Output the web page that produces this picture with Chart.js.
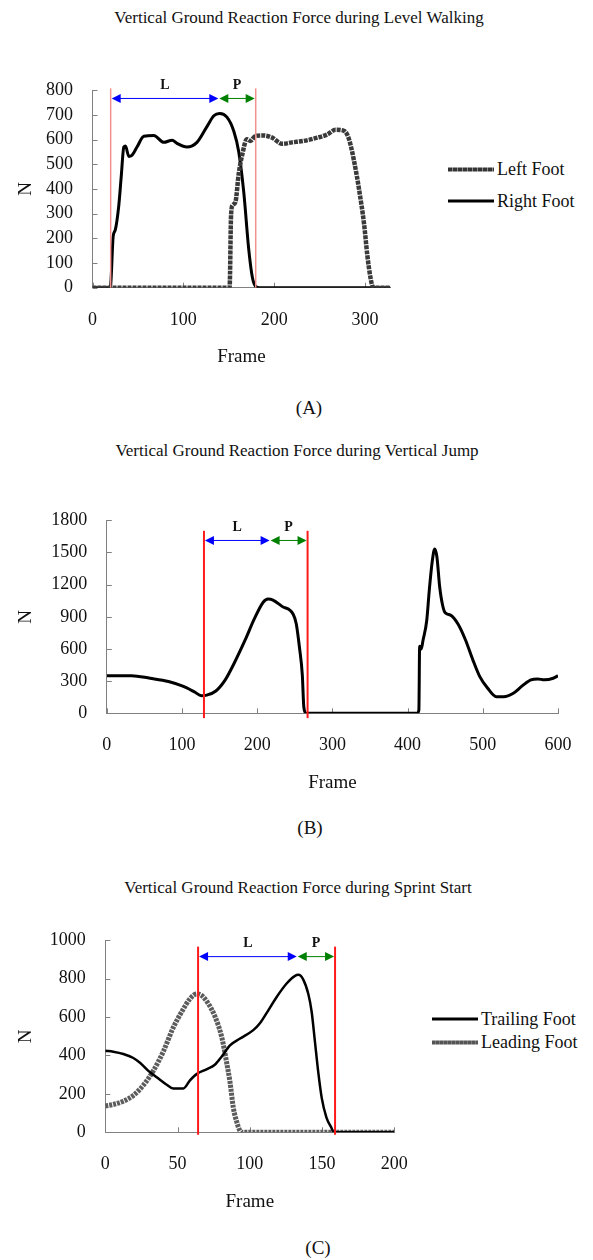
<!DOCTYPE html>
<html>
<head>
<meta charset="utf-8">
<script src="https://cdn.jsdelivr.net/npm/chart.js@4.4.1/dist/chart.umd.min.js"></script>
<style>
  body { margin: 0; background: #fff; width: 593px; height: 1260px; position: relative; overflow: hidden;
         font-family: "Liberation Serif", "Times New Roman", serif; color: #111; }
  canvas { position: absolute; left: 0; }
  .txt { position: absolute; white-space: nowrap; transform: translate(-50%, -50%); }
  .title { font-size: 17px; }
  .cap { font-size: 19px; }
  .leg { position: absolute; display: flex; align-items: center; font-size: 18px; white-space: nowrap; transform: translateY(-50%); }
  .leg i { display: inline-block; width: 46px; margin-right: 3px; }
  .solid { height: 3px; background: #000; }
  .dash { height: 4px; background: repeating-linear-gradient(90deg, #333 0 4px, #8a8a8a 4px 5px); }
  .grey { height: 4px; background: repeating-linear-gradient(90deg, #555 0 3px, #7a7a7a 3px 4px); }
</style>
</head>
<body>

<div class="txt title" style="left:299px; top:18px;">Vertical Ground Reaction Force during Level Walking</div>
<div class="leg" style="left:448px; top:169px;"><i class="dash"></i>Left Foot</div>
<div class="leg" style="left:448px; top:201px;"><i class="solid"></i>Right Foot</div>
<canvas id="chartA"></canvas>
<div class="txt cap" style="left:309px; top:408px;">(A)</div>

<div class="txt title" style="left:297px; top:451px;">Vertical Ground Reaction Force during Vertical Jump</div>
<canvas id="chartB"></canvas>
<div class="txt cap" style="left:310px; top:828px;">(B)</div>

<div class="txt title" style="left:298px; top:888px;">Vertical Ground Reaction Force during Sprint Start</div>
<div class="leg" style="left:432px; top:1019px;"><i class="solid"></i>Trailing Foot</div>
<div class="leg" style="left:432px; top:1042px;"><i class="grey"></i>Leading Foot</div>
<canvas id="chartC"></canvas>
<div class="txt cap" style="left:318px; top:1248px;">(C)</div>

<script>
// (A) level walking
const walkLeftFrames = [0, 150, 151, 152.6, 154.4, 157.4, 161, 164.8, 170, 174, 179.5, 188.6, 197.8, 208.8, 219.8, 232.6, 247.5, 258.5, 267.6, 276.8, 282.4, 288, 293.5, 299, 302.6, 306, 308.6, 312, 328];
const walkLeftForce  = [0, 0, 4, 297, 335, 347, 462, 538, 602, 595, 615, 617, 608, 583, 589, 595, 608, 621, 640, 636, 602, 513, 398, 258, 131, 42, 4, 0, 0];
const walkRightFrames = [0, 19, 19.8, 22.8, 25, 29, 31.6, 34.5, 36.3, 40, 43, 49, 56.5, 67.5, 78.5, 87.7, 93, 104, 115, 126, 133.6, 140, 148, 155.6, 161, 166.6, 172, 176, 179.5, 184, 328];
const walkRightForce  = [0, 0, 4, 209, 233, 335, 449, 570, 574, 532, 535, 570, 614, 617, 589, 598, 585, 570, 589, 653, 697, 706, 691, 634, 551, 385, 156, 42, 6, 0, 0];
const walkPhases = [20, 138.5, 179.7];

// (B) vertical jump
const jumpFrames = [0, 33, 57.5, 82, 101, 116, 126, 133, 145, 157.5, 170, 184, 196, 208, 214.5, 221, 233, 248, 252, 256, 260, 262, 265, 413, 415, 416, 418, 420.6, 425.4, 429, 433, 436, 439, 442.5, 446.4, 450, 457, 467, 477, 486.4, 496, 506, 518, 528, 540, 552, 564, 573, 582, 593.6, 600];
const jumpForce  = [351, 351, 327, 297, 253, 202, 164, 170, 208, 312, 476, 684, 878, 1036, 1065, 1056, 997, 922, 833, 625, 357, 59, 0, 0, 30, 625, 600, 684, 863, 1161, 1429, 1532, 1458, 1190, 1012, 937, 916, 833, 684, 505, 342, 238, 154, 154, 184, 253, 312, 321, 312, 327, 351];
const jumpPhases = [129.2, 216.5, 267];

// (C) sprint start
const trailFrames = [0, 5.5, 12.5, 19.4, 24, 29.8, 35.6, 42.5, 47, 54, 58.6, 63.2, 70, 76, 80.6, 86.3, 93, 102.4, 107, 111.7, 118.6, 125.5, 131.3, 133.6, 137, 140.5, 142.8, 145, 147.4, 149.8, 153, 156.7, 158, 200];
const trailForce  = [425, 420, 408, 387, 362, 320, 287, 248, 228, 228, 270, 303, 328, 353, 395, 453, 487, 532, 568, 622, 705, 775, 815, 820, 795, 720, 628, 478, 312, 178, 78, 20, 0, 0];
const leadFrames = [0, 5.5, 12.5, 19.4, 26.3, 33.2, 40.1, 47, 52.9, 58.6, 63.2, 66.7, 71.3, 75.9, 80.6, 84, 86.3, 88.6, 91, 93.2, 95, 200];
const leadForce  = [137, 145, 162, 192, 245, 320, 420, 545, 628, 695, 720, 712, 670, 603, 495, 362, 262, 128, 53, 8, 0, 0];
const sprintPhases = [64.2, 132.5, 159];

Chart.defaults.font.family = '"Liberation Serif", "Times New Roman", serif';
Chart.defaults.color = '#111';

function pts(xs, ys) {
  return xs.map((x, i) => ({ x: x, y: ys[i] }));
}

// marcas de eje hacia dentro del area
const innerTicks = {
  id: 'innerTicks',
  beforeDatasetsDraw(chart) {
    const { ctx, chartArea: a, scales } = chart;
    ctx.save();
    ctx.strokeStyle = '#808080';
    ctx.lineWidth = 1;
    ctx.beginPath();
    scales.x.ticks.forEach(t => {
      const px = Math.round(scales.x.getPixelForValue(t.value)) + 0.5;
      ctx.moveTo(px, a.bottom);
      ctx.lineTo(px, a.bottom - 5);
    });
    scales.y.ticks.forEach(t => {
      const py = Math.round(scales.y.getPixelForValue(t.value)) + 0.5;
      ctx.moveTo(a.left, py);
      ctx.lineTo(a.left + 5, py);
    });
    ctx.stroke();
    ctx.restore();
  }
};

function arrowHead(ctx, x, y, dir) {
  ctx.beginPath();
  ctx.moveTo(x, y);
  ctx.lineTo(x - dir * 9, y - 4.5);
  ctx.lineTo(x - dir * 9, y + 4.5);
  ctx.closePath();
  ctx.fill();
}

function drawArrow(ctx, x1, x2, y, color, label) {
  ctx.strokeStyle = color;
  ctx.fillStyle = color;
  ctx.lineWidth = 1;
  ctx.beginPath();
  ctx.moveTo(x1 + 4, y);
  ctx.lineTo(x2 - 4, y);
  ctx.stroke();
  arrowHead(ctx, x1, y, -1);
  arrowHead(ctx, x2, y, 1);
  ctx.fillStyle = '#111';
  ctx.font = 'bold 14px "Liberation Serif", serif';
  ctx.textAlign = 'center';
  ctx.textBaseline = 'middle';
  ctx.fillText(label, (x1 + x2) / 2, y - 13);
}

// lineas rojas (inicio y fin) y flechas L / P
const phaseMarks = {
  id: 'phaseMarks',
  afterDatasetsDraw(chart, args, opts) {
    if (!opts.frames) return;
    const { ctx, scales: { x, y } } = chart;
    const px = opts.frames.map(f => x.getPixelForValue(f));
    const yTop = y.getPixelForValue(opts.topN);
    const yBot = y.getPixelForValue(opts.bottomN);
    const yArr = y.getPixelForValue(opts.arrowN);
    ctx.save();
    ctx.strokeStyle = opts.lineColor;
    ctx.lineWidth = opts.lineWidth;
    [px[0], px[2]].forEach(p => {
      ctx.beginPath();
      ctx.moveTo(p, yTop);
      ctx.lineTo(p, yBot);
      ctx.stroke();
    });
    drawArrow(ctx, px[0] + 1, px[1], yArr, '#0000ff', 'L');
    drawArrow(ctx, px[1] + 1, px[2] - 1, yArr, '#008000', 'P');
    ctx.restore();
  }
};

function buildChart(id, box, datasets, xOpt, yOpt, marks) {
  const cv = document.getElementById(id);
  const h = Math.round(box.plotBottom + 85 - box.top);
  cv.width = 593;
  cv.height = h;
  cv.style.top = box.top + 'px';
  const xHeight = box.top + h - box.plotBottom;

  return new Chart(cv, {
    type: 'line',
    data: { datasets: datasets },
    options: {
      responsive: false,
      animation: false,
      layout: { padding: { left: 0, right: 593 - box.plotRight, top: box.plotTop - box.top, bottom: 0 } },
      plugins: {
        legend: { display: false },
        tooltip: { enabled: false },
        phaseMarks: marks
      },
      elements: { point: { radius: 0 } },
      scales: {
        x: {
          type: 'linear',
          min: 0,
          max: xOpt.max,
          afterFit: s => { s.height = xHeight; },
          ticks: { stepSize: xOpt.step, includeBounds: false, padding: 21.5, font: { size: 18 }, maxRotation: 0,
                   callback: v => String(v) },
          grid: { display: false, drawTicks: false },
          border: { display: true, color: '#808080', width: 1 },
          title: { display: true, text: 'Frame', font: { size: 19 }, padding: { top: 0, bottom: xHeight - 69.5 - 11.4 } }
        },
        y: {
          min: 0,
          max: yOpt.max,
          afterFit: s => { s.width = box.plotLeft; },
          ticks: { stepSize: yOpt.step, padding: 19.5, font: { size: 18 }, callback: v => String(v) },
          grid: { display: false, drawTicks: false },
          border: { display: true, color: '#808080', width: 1 },
          title: { display: true, text: 'N', font: { size: 19 }, padding: { top: 14.6, bottom: 0 } }
        }
      }
    },
    plugins: [innerTicks, phaseMarks]
  });
}

buildChart('chartA',
  { top: 60, plotTop: 78, plotBottom: 287.7, plotLeft: 92.5, plotRight: 390.4 },
  [
    { label: 'Left Foot', data: pts(walkLeftFrames, walkLeftForce), borderColor: '#3a3a3a', borderWidth: 4.5,
      borderDash: [4, 1], cubicInterpolationMode: 'monotone' },
    { label: 'Right Foot', data: pts(walkRightFrames, walkRightForce), borderColor: '#000', borderWidth: 3,
      cubicInterpolationMode: 'monotone' }
  ],
  { max: 328, step: 100 }, { max: 800, step: 100 },
  { frames: walkPhases, arrowN: 767, topN: 808, bottomN: 0, lineColor: '#f29090', lineWidth: 1.5 });

buildChart('chartB',
  { top: 490, plotTop: 511.7, plotBottom: 713.3, plotLeft: 106.8, plotRight: 572.7 },
  [
    { label: 'Vertical Jump', data: pts(jumpFrames, jumpForce), borderColor: '#000', borderWidth: 3,
      cubicInterpolationMode: 'monotone' }
  ],
  { max: 600, step: 100 }, { max: 1800, step: 300 },
  { frames: jumpPhases, arrowN: 1612, topN: 1702, bottomN: -45, lineColor: '#ff1a1a', lineWidth: 2 });

buildChart('chartC',
  { top: 910, plotTop: 932.3, plotBottom: 1132.3, plotLeft: 105.3, plotRight: 394.3 },
  [
    { label: 'Trailing Foot', data: pts(trailFrames, trailForce), borderColor: '#000', borderWidth: 2.5,
      cubicInterpolationMode: 'monotone' },
    { label: 'Leading Foot', data: pts(leadFrames, leadForce), borderColor: '#5c5c5c', borderWidth: 5,
      borderDash: [3, 1], cubicInterpolationMode: 'monotone' }
  ],
  { max: 200, step: 50 }, { max: 1000, step: 200 },
  { frames: sprintPhases, arrowN: 915, topN: 967, bottomN: -13, lineColor: '#ff1a1a', lineWidth: 2 });
</script>
</body>
</html>
